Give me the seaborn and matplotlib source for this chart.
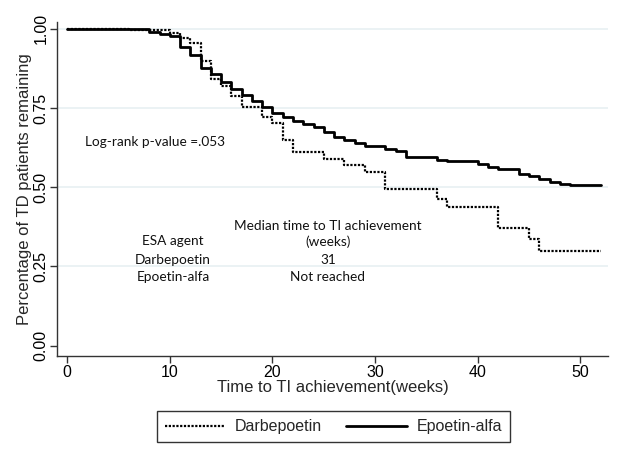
import pandas as pd
import numpy as np
import matplotlib
matplotlib.use("Agg")
import matplotlib.pyplot as plt
import seaborn as sns

# Kaplan-Meier steps (weeks, proportion remaining)
darbe_weeks = [0, 6, 10, 11, 12, 13, 14, 15, 16, 17, 19, 20, 21, 22, 25, 27, 29,
               31, 36, 37, 42, 45, 46, 52]
darbe_surv = [1.0, 0.996, 0.986, 0.971, 0.955, 0.898, 0.84, 0.82, 0.788, 0.752,
              0.72, 0.704, 0.65, 0.612, 0.59, 0.57, 0.548, 0.495, 0.464, 0.438,
              0.372, 0.336, 0.30, 0.30]

epo_weeks = [0, 8, 9, 10, 11, 12, 13, 14, 15, 16, 17, 18, 19, 20, 21, 22, 23, 24,
             25, 26, 27, 28, 29, 31, 32, 33, 36, 37, 40, 41, 42, 44, 45, 46, 47,
             48, 49, 52]
epo_surv = [1.0, 0.99, 0.985, 0.976, 0.943, 0.918, 0.875, 0.856, 0.832, 0.81,
            0.79, 0.772, 0.754, 0.733, 0.72, 0.709, 0.70, 0.689, 0.673, 0.659,
            0.65, 0.64, 0.629, 0.62, 0.613, 0.595, 0.587, 0.582, 0.574, 0.563,
            0.556, 0.542, 0.535, 0.527, 0.516, 0.511, 0.506, 0.506]

x_ticks = [0, 10, 20, 30, 40, 50]
y_ticks = [0.0, 0.25, 0.5, 0.75, 1.0]

table_agents = ["Darbepoetin", "Epoetin-alfa"]
table_medians = ["31", "Not reached"]

df_darbe = pd.DataFrame({"weeks": darbe_weeks, "surv": darbe_surv})
df_epo = pd.DataFrame({"weeks": epo_weeks, "surv": epo_surv})

sns.set_style("white")
plt.rcParams["font.family"] = ["Liberation Sans", "DejaVu Sans"]

fig = plt.figure(figsize=(6.23, 4.54), dpi=100)
ax = fig.add_axes([0.0915, 0.215, 0.8845, 0.737])

for y in y_ticks[1:]:
    ax.axhline(y, color="#e8f0f2", lw=1.2, zorder=0)

sns.lineplot(data=df_darbe, x="weeks", y="surv", ax=ax, color="black",
             drawstyle="steps-post", lw=1.6, linestyle=(0, (1, 0.7)),
             estimator=None, label="Darbepoetin")
sns.lineplot(data=df_epo, x="weeks", y="surv", ax=ax, color="black",
             drawstyle="steps-post", lw=2.0, estimator=None,
             label="Epoetin-alfa")

ax.set_xlim(-1, 52.7)
ax.set_ylim(-0.034, 1.022)
ax.set_xticks(x_ticks)
ax.set_yticks(y_ticks)
ax.set_yticklabels(["%.2f" % v for v in y_ticks], rotation=90, va="center")
ax.tick_params(axis="both", direction="out", length=5, width=1, color="#333333",
               labelsize=11.5, labelcolor="black", bottom=True, left=True)
ax.tick_params(axis="x", pad=1)
ax.tick_params(axis="y", pad=1)
for s in ["top", "right"]:
    ax.spines[s].set_visible(False)
for s in ["left", "bottom"]:
    ax.spines[s].set_color("#333333")
    ax.spines[s].set_linewidth(1)

ax.set_xlabel("Time to TI achievement(weeks)", fontsize=12, labelpad=0.5)
ax.set_ylabel("Percentage of TD patients remaining", fontsize=12, labelpad=1)

note_font = ["Lato", "DejaVu Sans"]
note_kw = dict(family=note_font, fontsize=9.8, va="center", color="#111111")
ax.text(1.75, 0.643, "Log-rank p-value =.053", ha="left", **note_kw)
ax.text(25.4, 0.376, "Median time to TI achievement", ha="center", **note_kw)
ax.text(25.4, 0.329, "(weeks)", ha="center", **note_kw)
ax.text(10.3, 0.329, "ESA agent", ha="center", **note_kw)
for i, (agent, med) in enumerate(zip(table_agents, table_medians)):
    yy = 0.270 - i * 0.054
    ax.text(10.3, yy, agent, ha="center", **note_kw)
    ax.text(25.4, yy, med, ha="center", **note_kw)

leg = ax.legend(loc="center", bbox_to_anchor=(0.535, 0.06),
                bbox_transform=fig.transFigure, ncol=2, frameon=True,
                fancybox=False, fontsize=11.5, handlelength=3.8,
                columnspacing=1.5, handletextpad=0.6, borderpad=0.5)
leg.get_frame().set_edgecolor("black")
leg.get_frame().set_linewidth(1)

fig.savefig("out.png", dpi=100)
